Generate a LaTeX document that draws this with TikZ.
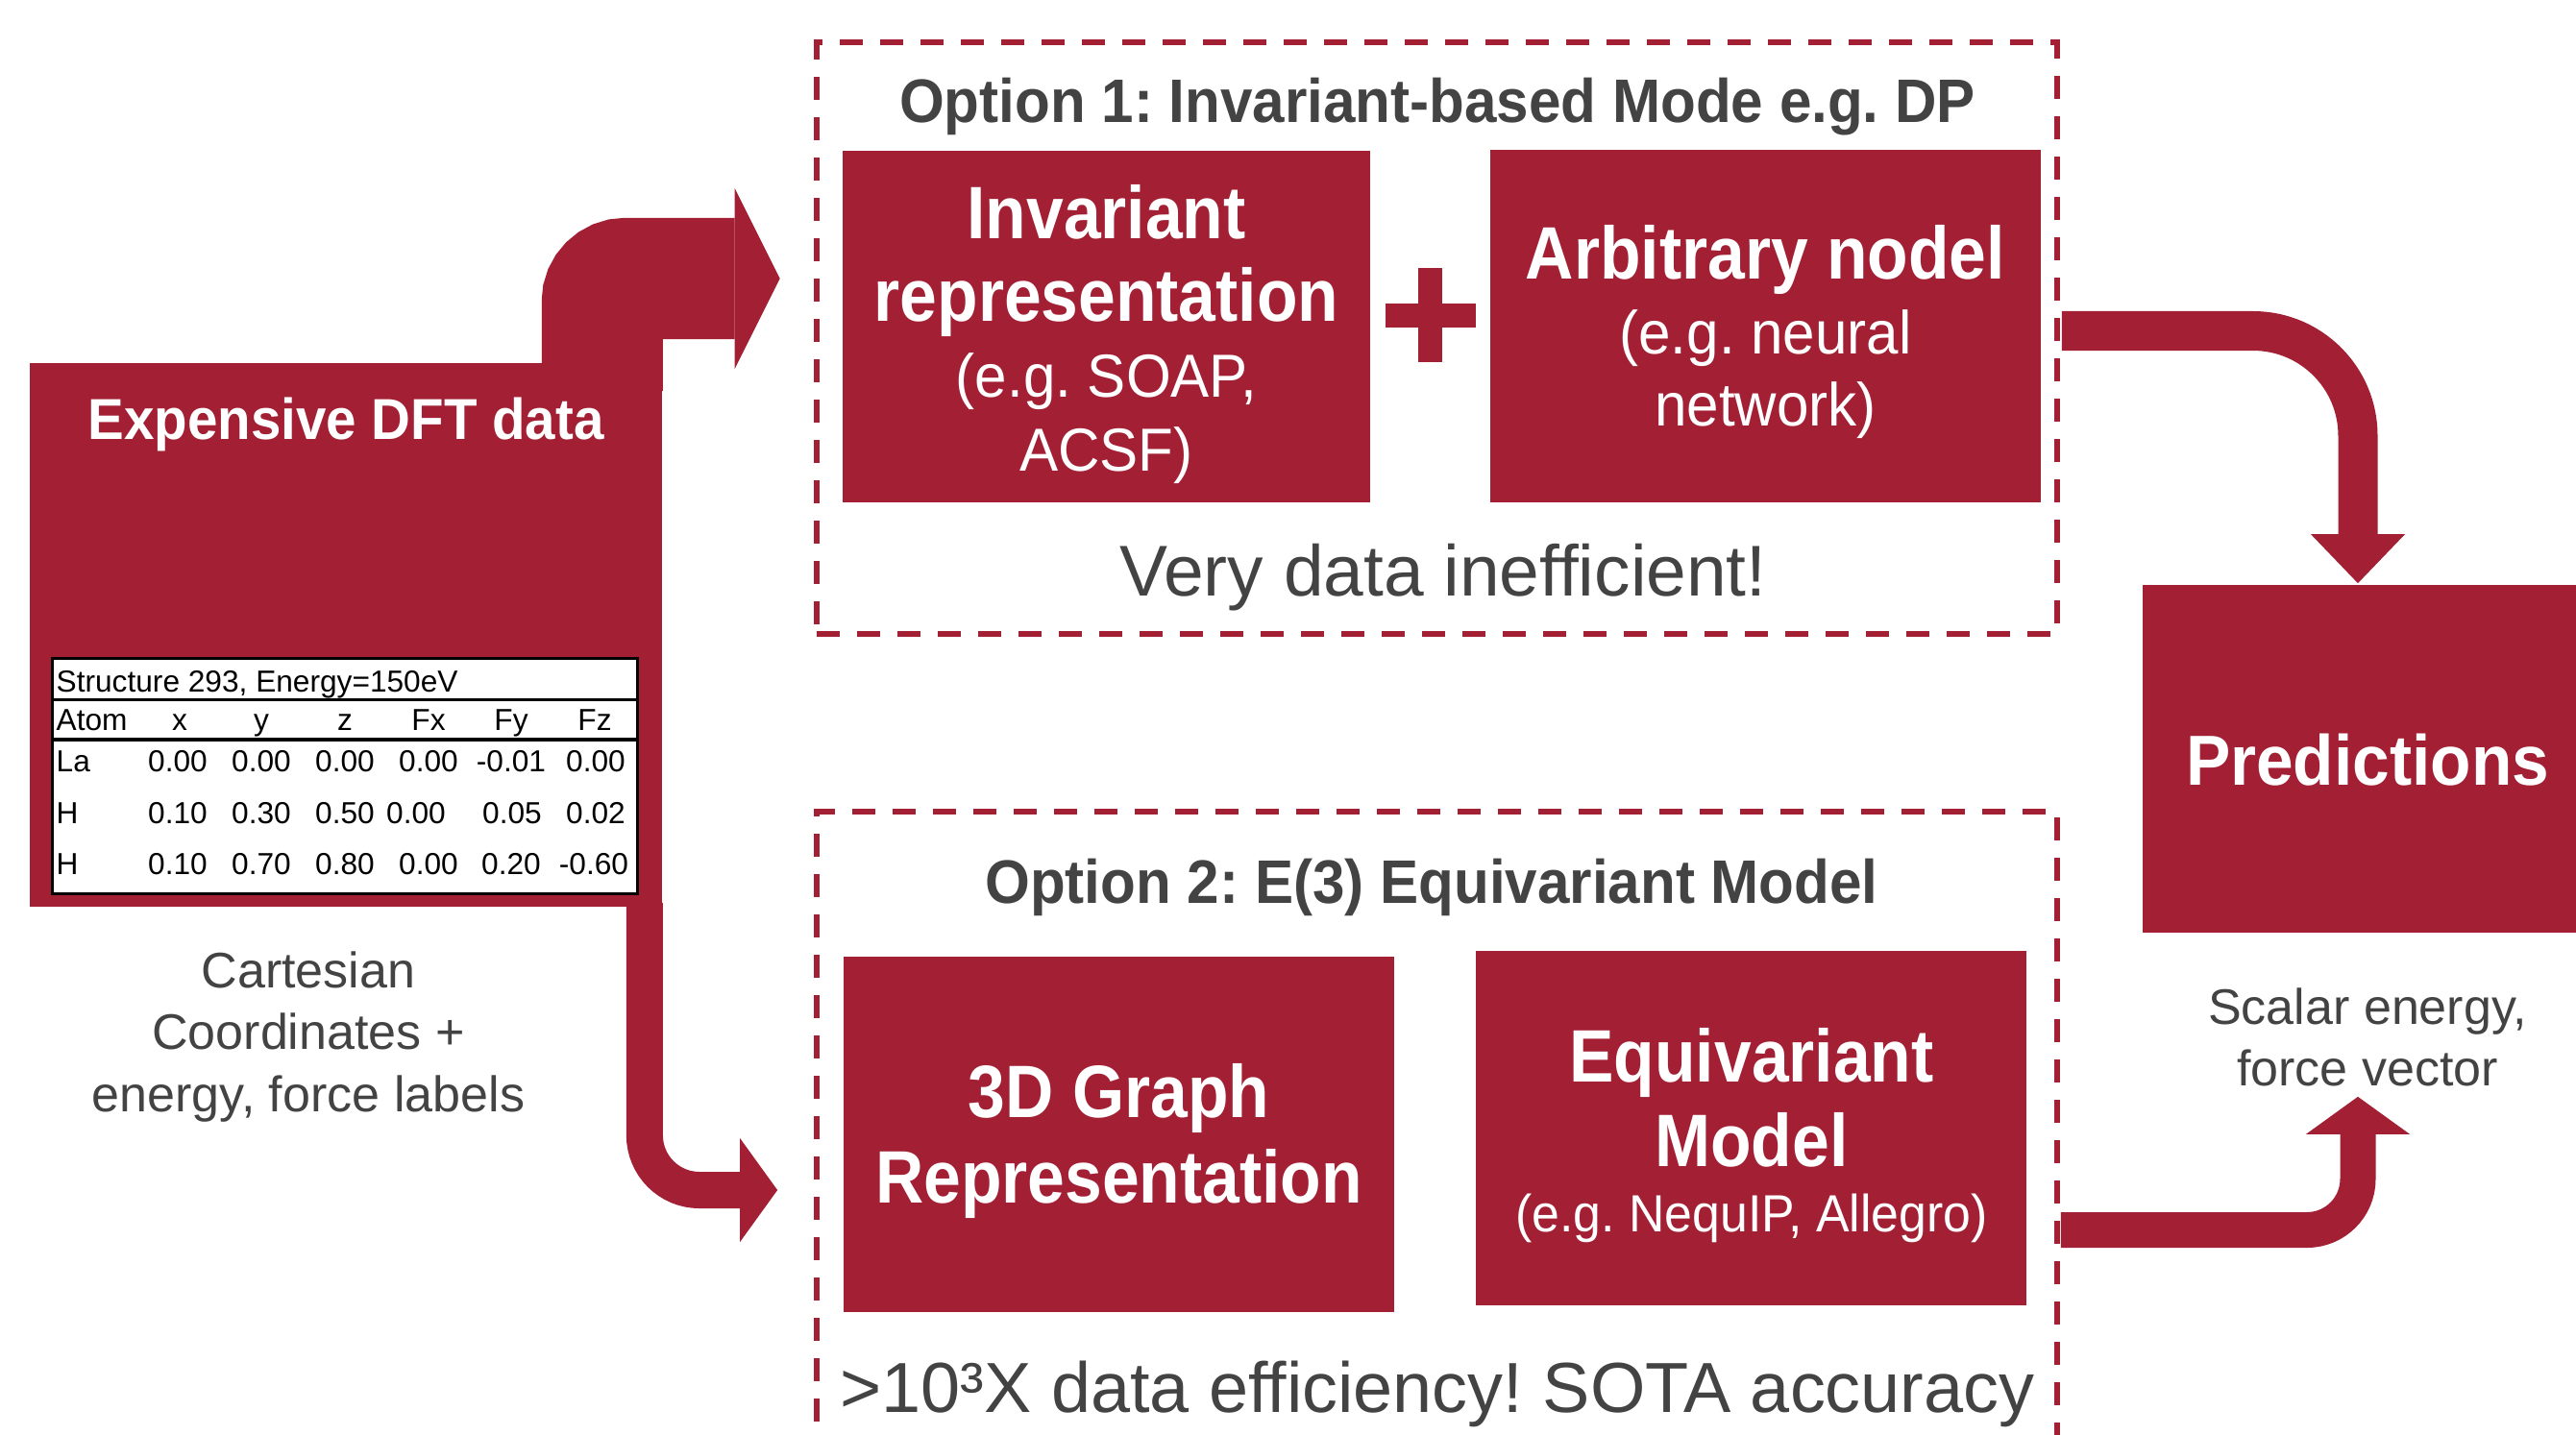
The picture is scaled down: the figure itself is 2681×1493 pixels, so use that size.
\documentclass[tikz,border=0pt]{standalone}
\usepackage{fontspec}
\setmainfont{Liberation Sans}
\newfontfamily\condfont[FakeStretch=0.9]{Liberation Sans}
\newfontfamily\semicondfont[FakeStretch=0.95]{Liberation Sans}
\newfontfamily\headfont[FakeStretch=0.94]{Liberation Sans}
\usetikzlibrary{calc,arrows.meta}
\frenchspacing
\definecolor{crimson}{HTML}{A31F34}
\definecolor{ink}{HTML}{434343}
\tikzset{
  redbox/.style={fill=crimson, inner sep=0pt},
  dashbox/.style={draw=crimson, line width=1.7pt, dash pattern=on 0.24cm off 0.18cm, inner sep=0pt},
  wlabel/.style={text=white, inner sep=0pt, align=center},
  glabel/.style={text=ink, inner sep=0pt, align=center},
  tcell/.style={text=black, inner sep=0pt, anchor=base, font=\fontsize{9}{11}\selectfont},
  tline/.style={draw=black, line width=0.85pt},
  fatarrow/.style={draw=crimson, line cap=butt},
  plusbar/.style={draw=crimson, line width=0.25cm}
}

\begin{document}
\begin{tikzpicture}[x=0.01cm, y=-0.01cm]
  \useasboundingbox (0,0) rectangle (2681,1493);
  \clip (0,0) rectangle (2681,1493);

  \node[dashbox, minimum width=12.91cm, minimum height=6.16cm] (opt1) at (1495.5,352) {};
  \node[dashbox, minimum width=12.91cm, minimum height=7.55cm] (opt2) at (1495.5,1222.5) {};

  \node[redbox, minimum width=6.58cm, minimum height=5.66cm] (dft) at (360,661) {};
  \node[redbox, minimum width=5.49cm, minimum height=3.66cm] (inv) at (1151.5,340) {};
  \node[redbox, minimum width=5.73cm, minimum height=3.67cm] (arb) at (1837.5,339.5) {};
  \node[redbox, minimum width=5.73cm, minimum height=3.70cm] (graph) at (1164.5,1181) {};
  \node[redbox, minimum width=5.73cm, minimum height=3.69cm] (equi) at (1822.5,1174.5) {};
  \node[redbox, minimum width=4.66cm, minimum height=3.62cm] (pred) at (2463,790) {};

  \coordinate (plus) at (1488.5,328);
  \draw[plusbar] ($(plus)+(-47,0)$) -- ($(plus)+(47,0)$)
                 ($(plus)+(0,-49)$) -- ($(plus)+(0,49)$);

  \coordinate (in1) at ($(opt1.west)+(-35,-62)$);
  \coordinate (in2) at ($(graph.west)+(-68,58)$);
  \draw[fatarrow, line width=1.26cm, rounded corners=0.24cm,
        -{Triangle[length=0.47cm, width=1.88cm, line width=0pt]}]
    ($(dft.north east)+(-63,30)$) |- (in1);
  \draw[fatarrow, line width=0.38cm, rounded corners=0.57cm,
        -{Triangle[length=0.39cm, width=1.08cm, line width=0pt]}]
    ($(dft.south east)+(-19,-5)$) |- (in2);
  \draw[fatarrow, line width=0.41cm, rounded corners=1.09cm,
        -{Triangle[length=0.51cm, width=0.98cm, line width=0pt]}]
    ($(arb.east)+(21,5)$) -| ($(pred.north)+(-9,-1)$);
  \draw[fatarrow, line width=0.37cm, rounded corners=0.53cm,
        -{Triangle[length=0.39cm, width=1.08cm, line width=0pt]}]
    ($(equi.east)+(35,106)$) -| ($(pred.south)+(-9,170)$);

  \node[draw=black, fill=white, line width=0.85pt, inner sep=0pt,
        minimum width=6.08cm, minimum height=2.44cm] (tab) at (359,808) {};
  \draw[tline] (tab.west |- 0,728) -- (tab.east |- 0,728);
  \draw[tline, line width=1.1pt] (tab.west |- 0,770) -- (tab.east |- 0,770);
  \node[tcell, anchor=base west] (tabhead) at (58,720) {Structure 293, Energy=150eV};
  \node[tcell, anchor=base west] (atomhd) at (58,760) {Atom};
  \foreach \cx/\txt [count=\i] in {187/x, 272/y, 359/z, 446/Fx, 532/Fy, 619/Fz}
    \node[tcell] (hd\i) at (\cx,760) {\txt};
  \node[tcell, anchor=base west] (atomla) at (58,803) {La};
  \foreach \cx/\txt [count=\i] in {185/0.00, 272/0.00, 359/0.00, 446/0.00, 532/-0.01, 620/0.00}
    \node[tcell] (la\i) at (\cx,803) {\txt};
  \node[tcell, anchor=base west] (atomh) at (58,857) {H};
  \foreach \cx/\txt [count=\i] in {185/0.10, 272/0.30, 359/0.50, 433/0.00, 533/0.05, 620/0.02}
    \node[tcell] (ha\i) at (\cx,857) {\txt};
  \node[tcell, anchor=base west] (atomhh) at (58,910) {H};
  \foreach \cx/\txt [count=\i] in {185/0.10, 272/0.70, 359/0.80, 446/0.00, 532/0.20, 618/-0.60}
    \node[tcell] (hb\i) at (\cx,910) {\txt};

  \node[wlabel, anchor=base, font=\headfont\bfseries\fontsize{17.1}{20}\selectfont] (dfttitle) at (360,457) {Expensive DFT data};
  \node[wlabel, anchor=north, font=\condfont\bfseries\fontsize{22}{24.5}\selectfont] (invhead) at (1151.5,192) {Invariant\\representation};
  \node[wlabel, anchor=north, font=\semicondfont\fontsize{18}{21.9}\selectfont] (invsub) at (1151.5,367) {(e.g. SOAP,\\ACSF)};
  \node[wlabel, anchor=base, font=\condfont\bfseries\fontsize{22}{24.5}\selectfont] (arbhead) at (1837.5,290) {Arbitrary nodel};
  \node[wlabel, anchor=north, font=\semicondfont\fontsize{18}{21.3}\selectfont] (arbsub) at (1837.5,322) {(e.g. neural\\network)};
  \node[wlabel, anchor=north, font=\condfont\bfseries\fontsize{22}{25.3}\selectfont] (graphhead) at (1164.5,1107) {3D Graph\\Representation};
  \node[wlabel, anchor=north, font=\condfont\bfseries\fontsize{22}{25}\selectfont] (equihead) at (1823,1070) {Equivariant\\Model};
  \node[wlabel, anchor=base, font=\semicondfont\fontsize{15.5}{18}\selectfont] (equisub) at (1823,1282) {(e.g. NequIP, Allegro)};
  \node[wlabel, anchor=base, font=\headfont\bfseries\fontsize{21}{25}\selectfont] (predtext) at (2464,817) {Predictions};

  \node[glabel, anchor=base, font=\headfont\bfseries\fontsize{18.2}{22}\selectfont] (opt1title) at (1496,127) {Option 1: Invariant-based Mode e.g. DP};
  \node[glabel, anchor=base, font=\headfont\bfseries\fontsize{18.2}{22}\selectfont] (opt2title) at (1490,940) {Option 2: E(3) Equivariant Model};
  \node[glabel, anchor=base, font=\fontsize{21.3}{25}\selectfont] (opt1note) at (1502,620) {Very data inefficient!};
  \node[glabel, anchor=base, font=\fontsize{21}{25}\selectfont] (opt2note) at (1496,1470) {>10³X data efficiency! SOTA accuracy};
  \node[glabel, anchor=north, font=\fontsize{14.8}{18.35}\selectfont] (dftnote) at (321,990) {Cartesian\\Coordinates +\\energy, force labels};
  \node[glabel, anchor=north, font=\fontsize{14.8}{18.35}\selectfont] (prednote) at (2464,1028) {Scalar energy,\\force vector};
\end{tikzpicture}
\end{document}
